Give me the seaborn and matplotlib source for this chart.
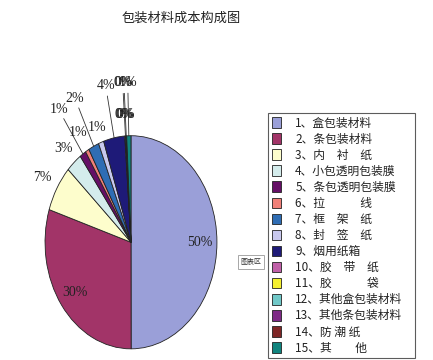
import numpy as np
import matplotlib
matplotlib.use("Agg")
import matplotlib.pyplot as plt
import seaborn as sns

# data
items = ["1、盒包装材料", "2、条包装材料", "3、内　衬　纸", "4、小包透明包装膜",
         "5、条包透明包装膜", "6、拉　　　线", "7、框　架　纸", "8、封　签　纸",
         "9、烟用纸箱", "10、胶　带　纸", "11、胶　　　袋", "12、其他盒包装材料",
         "13、其他条包装材料", "14、防 潮 纸", "15、其　　他"]
shares = [50, 30, 7, 3, 1.2, 0.7, 2, 1, 4, 0.1, 0.05, 0.1, 0.05, 0.05, 0.8]
colors = ["#9a9fd8", "#a23468", "#fdfdcc", "#d4ecec", "#650f66", "#f08078",
          "#2f6db4", "#c8c8ee", "#1e1a78", "#c060a8", "#f5f030", "#70c8c8",
          "#7e2a86", "#7e2626", "#10847e"]
# how far out each label sits (1 = pie edge), long ones get a leader line
label_dist = [0.8, 0.8, 1.2, 1.18, 1.5, 1.2, 1.5, 1.15, 1.5, 1.2, 1.5, 1.2, 1.5, 1.2, 1.5]

sns.set_theme(style="white")
plt.rcParams["font.family"] = ["Noto Sans CJK SC", "DejaVu Sans"]

fig = plt.figure(figsize=(4.33, 3.6), dpi=100)
fig.patch.set_facecolor("white")
ax = fig.add_axes([0.104, 0.031, 0.397, 0.592])

wedges, _ = ax.pie(shares, colors=colors, startangle=90, counterclock=False,
                   wedgeprops=dict(edgecolor="#222222", linewidth=0.6))
ax.set_xlim(-1, 1)
ax.set_ylim(-1, 1)
ax.set_aspect("auto")
ax.axis("off")

total = sum(shares)
for w, v, d in zip(wedges, shares, label_dist):
    ang = np.deg2rad((w.theta1 + w.theta2) / 2)
    ux, uy = np.cos(ang), np.sin(ang)
    txt = "%d%%" % round(v / total * 100)
    ax.text(d * ux, d * uy, txt, ha="center", va="center", fontsize=10,
            family="Liberation Serif", color="#222222", clip_on=False)
    if d > 1.3:
        ax.plot([1.0 * ux, (d - 0.1) * ux], [1.0 * uy, (d - 0.1) * uy],
                color="#333333", lw=0.6, clip_on=False)

fig.text(181 / 433, 1 - 18 / 360, "包装材料成本构成图", ha="center", va="center",
         fontsize=9.5, color="#222222")

leg = fig.legend(wedges, items, loc="upper left",
                 bbox_to_anchor=(0.619, 1 - 113 / 360, 0.339, 0.0), mode="expand",
                 fontsize=8.5, frameon=True, fancybox=False, labelspacing=0.26,
                 handlelength=0.8, handleheight=1.0, handletextpad=1.2,
                 borderpad=0.3, borderaxespad=0)
leg.get_frame().set_edgecolor("#333333")
leg.get_frame().set_linewidth(0.8)
for t in leg.get_texts():
    t.set_color("#222222")

fig.text(251 / 433, 1 - 262 / 360, "图表区", ha="center", va="center", fontsize=5,
         color="#333333",
         bbox=dict(boxstyle="square,pad=0.4", fc="white", ec="#999999", lw=0.6))

fig.savefig("out.png", dpi=100)
